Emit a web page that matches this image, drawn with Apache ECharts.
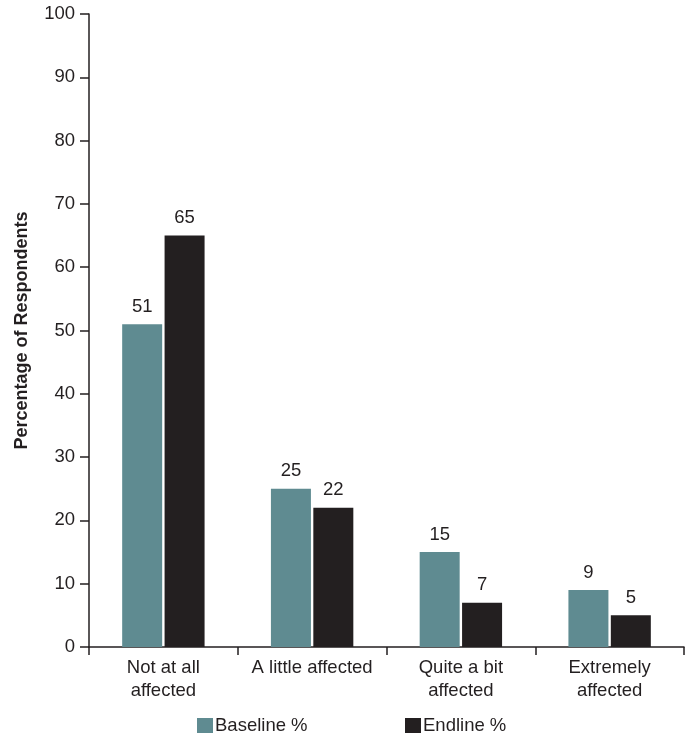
<!DOCTYPE html>
<html>
<head>
<meta charset="utf-8">
<script src="https://cdn.jsdelivr.net/npm/echarts@6/dist/echarts.min.js"></script>
<style>
  html, body { margin: 0; padding: 0; background: #fff; }
  #chart { width: 693px; height: 740px; }
</style>
</head>
<body>
<div id="chart"></div>
<script>
// Share of respondents by how much they were affected, at baseline and endline
const categories = ['Not at all\naffected', 'A little affected', 'Quite a bit\naffected', 'Extremely\naffected'];
const baseline = [51, 25, 15, 9];
const endline = [65, 22, 7, 5];
const seriesNames = ['Baseline %', 'Endline %'];

const FONT = '"Liberation Sans Narrow", "Liberation Sans", Arial, sans-serif';
const FS = 18.5;
const INK = '#231f20';
const TEAL = '#5f8b91';

const chart = echarts.init(document.getElementById('chart'), null, { renderer: 'canvas' });

const valueLabel = {
  show: true,
  position: 'top',
  distance: 8,
  color: INK,
  fontFamily: FONT,
  fontSize: FS
};

function legendAt(name, left) {
  return {
    data: [name],
    left: left, top: 716, padding: 0,
    icon: 'rect', itemWidth: 16, itemHeight: 15, itemGap: 0,
    textStyle: { color: INK, fontFamily: FONT, fontSize: FS, padding: [0, 0, 0, -3] }
  };
}

chart.setOption({
  animation: false,
  grid: { left: 89, right: 9, top: 14, bottom: 93, containLabel: false },
  legend: [legendAt(seriesNames[0], 197), legendAt(seriesNames[1], 405)],
  xAxis: {
    type: 'category',
    data: categories,
    boundaryGap: true,
    axisLine: { lineStyle: { color: INK, width: 1.5 } },
    axisTick: { show: true, length: 8, lineStyle: { color: INK, width: 1.5 } },
    axisLabel: {
      color: INK, fontFamily: FONT, fontSize: FS, lineHeight: 23,
      margin: 9, interval: 0
    }
  },
  yAxis: {
    type: 'value',
    min: 0, max: 100, interval: 10,
    name: 'Percentage of Respondents',
    nameLocation: 'middle',
    nameGap: 58,
    nameRotate: 90,
    nameTextStyle: {
      color: INK, fontFamily: '"Liberation Sans", Arial, sans-serif',
      fontSize: 18, fontWeight: 'bold'
    },
    axisLine: { show: true, lineStyle: { color: INK, width: 1.5 } },
    axisTick: { show: true, inside: false, length: 9, lineStyle: { color: INK, width: 1.5 } },
    splitLine: { show: false },
    axisLabel: { color: INK, fontFamily: FONT, fontSize: FS, margin: 14 }
  },
  series: [
    {
      name: seriesNames[0], type: 'bar', data: baseline,
      barWidth: 40, barGap: '6%',
      itemStyle: { color: TEAL },
      label: valueLabel
    },
    {
      name: seriesNames[1], type: 'bar', data: endline,
      barWidth: 40,
      itemStyle: { color: INK },
      label: valueLabel
    }
  ]
});
</script>
</body>
</html>
